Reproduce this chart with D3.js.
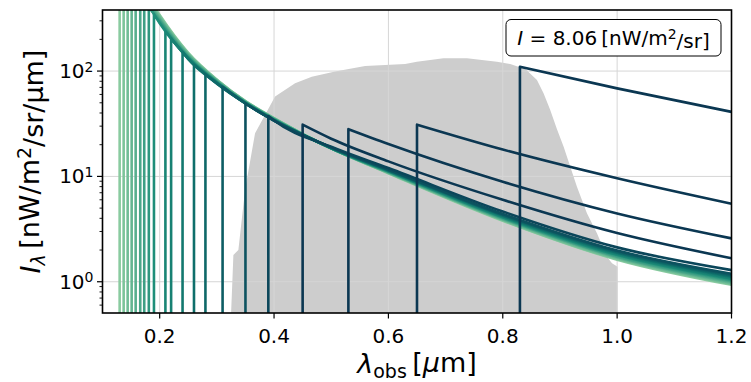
<!DOCTYPE html>
<html>
<head>
<meta charset="utf-8">
<script src="https://cdn.jsdelivr.net/npm/d3@7"></script>
<style>
  body { margin: 0; background: #fff; }
  svg { display: block; font-family: "DejaVu Sans", sans-serif; }
</style>
</head>
<body>
<svg id="chart" width="751" height="382"></svg>
<script>
// Wavelength grid (µm) on which each spectrum is tabulated
const wavelengthGrid = [0.175, 0.2, 0.25, 0.3, 0.35, 0.4, 0.5, 0.6, 0.8, 1.0, 1.2];

// Observed-frame break wavelength of each spectrum (µm)
const breakWavelengths = [0.13, 0.137, 0.144, 0.151, 0.158, 0.166, 0.173, 0.181, 0.19,
  0.21, 0.22, 0.24, 0.26, 0.28, 0.31, 0.35, 0.39, 0.45, 0.53, 0.65, 0.83];

// Intensity just longward of each break (nW/m²/sr/µm)
const breakValues = [1550, 1280, 1050, 870, 720, 590, 500, 410, 345,
  238, 203, 152, 115, 93, 71, 49, 37.5, 31, 28.1, 31, 110];

// Intensity of each spectrum on wavelengthGrid (null shortward of the break)
const spectra = [
  [554, 340.6, 148.8, 82.9, 51.9, 35.8, 18.5, 10.73, 3.80, 1.62, 0.935],
  [540, 333, 146.7, 82.2, 51.7, 35.6, 18.5, 10.79, 3.83, 1.64, 0.950],
  [526, 325.7, 144.7, 81.6, 51.4, 35.4, 18.5, 10.84, 3.87, 1.66, 0.965],
  [512, 318.6, 142.7, 81.0, 51.1, 35.3, 18.5, 10.9, 3.91, 1.69, 0.980],
  [499, 311.5, 140.7, 80.4, 50.9, 35.1, 18.5, 10.96, 3.94, 1.71, 0.995],
  [486, 304.7, 138.7, 79.8, 50.6, 35.0, 18.5, 11.0, 3.98, 1.73, 1.01],
  [473, 298, 136.8, 79.2, 50.4, 34.8, 18.5, 11.1, 4.02, 1.75, 1.03],
  [null, 291.4, 134.9, 78.6, 50.2, 34.6, 18.5, 11.14, 4.06, 1.78, 1.04],
  [null, 285, 133, 78, 50, 34.5, 18.5, 11.2, 4.1, 1.8, 1.06],
  [null, null, 132, 77.6, 49.9, 34.4, 18.55, 11.26, 4.14, 1.82, 1.077],
  [null, null, 130.9, 77.2, 49.7, 34.3, 18.6, 11.32, 4.18, 1.85, 1.094],
  [null, null, 129.9, 76.8, 49.6, 34.2, 18.65, 11.38, 4.22, 1.87, 1.111],
  [null, null, null, 76.5, 49.5, 34.1, 18.7, 11.44, 4.26, 1.90, 1.129],
  [null, null, null, 76.0, 49.3, 34.0, 18.74, 11.5, 4.30, 1.92, 1.147],
  [null, null, null, null, 49.2, 33.9, 18.8, 11.57, 4.34, 1.95, 1.165],
  [null, null, null, null, null, 33.9, 18.85, 11.65, 4.40, 1.98, 1.19],
  [null, null, null, null, null, 34.0, 19.1, 12.0, 4.64, 2.12, 1.29],
  [null, null, null, null, null, null, 22.8, 13.9, 6.0, 2.9, 1.67],
  [null, null, null, null, null, null, null, 20.3, 8.9, 4.45, 2.58],
  [null, null, null, null, null, null, null, null, 18.0, 9.6, 5.5],
  [null, null, null, null, null, null, null, null, null, 68.5, 41.0]
];

// Filter throughput curve (wavelength in µm, relative throughput)
const filterWavelength = [0.3249, 0.3289, 0.3376, 0.3493, 0.3668, 0.4018, 0.4368, 0.4660,
  0.5068, 0.5593, 0.6293, 0.6498, 0.6963, 0.7373, 0.7898, 0.8130, 0.8400, 0.8598, 0.8713,
  0.8830, 0.8948, 0.9063, 0.9297, 0.9472, 0.9647, 0.9822, 0.9910, 1.0008, 1.0008];
const filterThroughput = [0, 0.230, 0.250, 0.487, 0.712, 0.857, 0.910, 0.936,
  0.956, 0.978, 0.986, 0.995, 1.009, 1.009, 0.995, 0.986, 0.965, 0.923, 0.870,
  0.804, 0.728, 0.659, 0.500, 0.395, 0.316, 0.223, 0.197, 0.183, 0];

// Axis ticks
const xTicks = [0.2, 0.4, 0.6, 0.8, 1.0, 1.2];
const xTickLabels = ["0.2", "0.4", "0.6", "0.8", "1.0", "1.2"];
const yTicks = [1, 10, 100];
const yTickExponents = ["0", "1", "2"];

// Integrated intensity quoted in the annotation box
const integratedIntensity = "8.06";

const W = 751, H = 382;
const margin = { left: 102.5, right: 19.5, top: 10, bottom: 69 };
const plotW = W - margin.left - margin.right;
const plotH = H - margin.top - margin.bottom;

const svg = d3.select("#chart");
svg.append("rect").attr("width", W).attr("height", H).attr("fill", "#fff");

const x = d3.scaleLinear().domain([0.1, 1.2]).range([margin.left, margin.left + plotW]);
const y = d3.scaleLog().domain([0.505, 380]).range([margin.top + plotH, margin.top]);
const yFilter = d3.scaleLinear().domain([0, 1.2]).range([margin.top + plotH, margin.top]);

svg.append("defs").append("clipPath").attr("id", "plot-clip")
  .append("rect")
  .attr("x", margin.left).attr("y", margin.top)
  .attr("width", plotW).attr("height", plotH);

const plot = svg.append("g").attr("clip-path", "url(#plot-clip)");

// Filter throughput, shaded grey
const filterPts = filterWavelength.map((w, i) => [w, filterThroughput[i]]);
plot.append("path")
  .datum(filterPts)
  .attr("fill", "#cdcdcd")
  .attr("stroke", "none")
  .attr("d", d3.area()
    .x(d => x(d[0]))
    .y0(yFilter(0))
    .y1(d => yFilter(d[1])));

// Grid
const grid = plot.append("g").attr("stroke", "#d6d6d6").attr("stroke-width", 1);
xTicks.forEach(t => grid.append("line")
  .attr("x1", x(t)).attr("x2", x(t))
  .attr("y1", margin.top).attr("y2", margin.top + plotH));
yTicks.forEach(t => grid.append("line")
  .attr("x1", margin.left).attr("x2", margin.left + plotW)
  .attr("y1", y(t)).attr("y2", y(t)));

// Colour runs from pale green (short breaks) to deep navy (long breaks)
const color = d3.scaleLinear()
  .domain([0.13, 0.19, 0.26, 0.31, 0.39, 0.45])
  .range(["#8acba0", "#1e8e79", "#0f6f6b", "#0d5d64", "#0b465a", "#0b3752"])
  .clamp(true);

const curve = d3.line()
  .x(d => x(d[0]))
  .y(d => y(d[1]))
  .curve(d3.curveMonotoneX);

const yFloor = margin.top + plotH + 4;

breakWavelengths.forEach((bw, i) => {
  const pts = [[bw, breakValues[i]]];
  wavelengthGrid.forEach((w, j) => {
    const v = spectra[i][j];
    if (v !== null && w > bw) pts.push([w, v]);
  });
  const d = `M${x(bw)},${yFloor}` + curve(pts).replace(/^M/, "L");
  plot.append("path")
    .attr("d", d)
    .attr("fill", "none")
    .attr("stroke", color(bw))
    .attr("stroke-width", 2.6)
    .attr("stroke-linejoin", "round");
});

// Frame
svg.append("rect")
  .attr("x", margin.left).attr("y", margin.top)
  .attr("width", plotW).attr("height", plotH)
  .attr("fill", "none").attr("stroke", "#000").attr("stroke-width", 1.6);

// X axis ticks and labels
const xAxis = svg.append("g");
xTicks.forEach((t, i) => {
  xAxis.append("line")
    .attr("x1", x(t)).attr("x2", x(t))
    .attr("y1", margin.top + plotH).attr("y2", margin.top + plotH + 5.5)
    .attr("stroke", "#000").attr("stroke-width", 1.2);
  xAxis.append("text")
    .attr("x", x(t)).attr("y", margin.top + plotH + 30)
    .attr("text-anchor", "middle")
    .attr("font-size", 20)
    .attr("fill", "#000")
    .text(xTickLabels[i]);
});

// Y axis ticks (major + minor) and labels
const yAxis = svg.append("g");
const [yLo, yHi] = y.domain();
for (let e = -1; e <= 2; e++) {
  for (let m = 1; m <= 9; m++) {
    const v = m * Math.pow(10, e);
    if (v < yLo || v > yHi) continue;
    const major = m === 1;
    yAxis.append("line")
      .attr("x1", margin.left).attr("x2", margin.left - (major ? 5.5 : 3))
      .attr("y1", y(v)).attr("y2", y(v))
      .attr("stroke", "#000").attr("stroke-width", major ? 1.2 : 0.9);
  }
}
yTicks.forEach((t, i) => {
  const txt = yAxis.append("text")
    .attr("x", margin.left - 9).attr("y", y(t) + 7)
    .attr("text-anchor", "end")
    .attr("font-size", 20)
    .attr("fill", "#000");
  txt.append("tspan").text("10");
  txt.append("tspan").attr("dy", "-0.45em").attr("font-size", 14).text(yTickExponents[i]);
});

// Axis titles
const xTitle = svg.append("text")
  .attr("x", margin.left + plotW / 2).attr("y", 373)
  .attr("text-anchor", "middle")
  .attr("font-size", 27)
  .attr("fill", "#000");
xTitle.append("tspan").attr("font-style", "italic").text("λ");
xTitle.append("tspan").attr("font-size", 19).attr("dy", "0.25em").text("obs");
xTitle.append("tspan").attr("dy", "-0.2em").text("\u2009[");
xTitle.append("tspan").attr("font-style", "italic").text("μ");
xTitle.append("tspan").text("m]");

const yTitle = svg.append("text")
  .attr("transform", `translate(40,${margin.top + plotH / 2}) rotate(-90)`)
  .attr("text-anchor", "middle")
  .attr("font-size", 27)
  .attr("fill", "#000");
yTitle.append("tspan").attr("font-style", "italic").text("I");
yTitle.append("tspan").attr("font-style", "italic").attr("font-size", 19).attr("dy", "0.25em").text("λ");
yTitle.append("tspan").attr("dy", "-0.2em").text("\u2009[nW/m");
yTitle.append("tspan").attr("font-size", 19).attr("dy", "-0.45em").text("2");
yTitle.append("tspan").attr("dy", "0.45em").text("/sr/μm]");

// Annotation box with integrated intensity
const note = svg.append("g");
note.append("rect")
  .attr("x", 506).attr("y", 19.5)
  .attr("width", 215).attr("height", 36.5)
  .attr("rx", 5).attr("ry", 5)
  .attr("fill", "#fff").attr("stroke", "#000").attr("stroke-width", 1);
const noteText = note.append("text")
  .attr("x", 613.5).attr("y", 45)
  .attr("text-anchor", "middle")
  .attr("font-size", 20)
  .attr("fill", "#000");
noteText.append("tspan").attr("font-style", "italic").text("I");
noteText.append("tspan").text(` = ${integratedIntensity}\u2009[nW/m`);
noteText.append("tspan").attr("font-size", 14).attr("dy", "-0.45em").text("2");
noteText.append("tspan").attr("dy", "0.45em").text("/sr]");
</script>
</body>
</html>
